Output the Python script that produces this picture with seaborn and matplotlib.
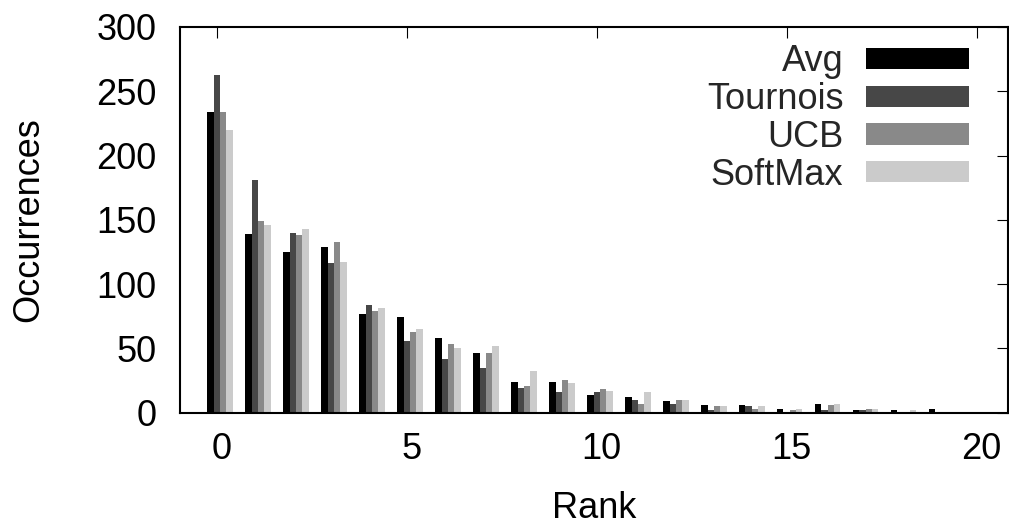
import matplotlib
matplotlib.use("Agg")
import matplotlib.pyplot as plt
import matplotlib.transforms as mtransforms
import seaborn as sns
import pandas as pd
import numpy as np

# ---- data ----
ranks = list(range(20))
series_names = ["Avg", "Tournois", "UCB", "SoftMax"]
avg      = [234, 139, 125, 129, 77, 74, 58, 46, 24, 24, 14, 12, 9, 6, 6, 3, 7, 2, 2, 3]
tournois = [263, 181, 140, 116, 84, 56, 42, 35, 19, 16, 16, 10, 7, 2, 5, 0, 2, 2, 0, 0.4]
ucb      = [234, 149, 138, 133, 79, 63, 53, 46, 21, 25, 18, 7, 10, 5, 3, 2, 6, 3, 0, 0.4]
softmax  = [220, 146, 143, 117, 81, 65, 50, 52, 32, 23, 17, 16, 10, 5, 5, 3, 7, 3, 2, 0]
colors = ["#000000", "#474747", "#898989", "#cbcbcb"]
xticks = [0, 5, 10, 15, 20]
yticks = [0, 50, 100, 150, 200, 250, 300]

df = pd.DataFrame({
    "Rank": ranks * 4,
    "Occurrences": avg + tournois + ucb + softmax,
    "Method": sum([[n] * len(ranks) for n in series_names], []),
})

sns.set_theme(style="white")
plt.rcParams["font.family"] = ["Liberation Sans", "DejaVu Sans"]

W, H, DPI = 1009, 524, 100
fig = plt.figure(figsize=(W / DPI, H / DPI), dpi=DPI)
left, right, top, bottom = 180, 1008.5, 27, 412.5
XMIN, XMAX = -0.97, 20.84
ax = fig.add_axes([left / W, 1 - bottom / H, (right - left) / W, (bottom - top) / H])

sns.barplot(data=df, x="Rank", y="Occurrences", hue="Method", hue_order=series_names,
            palette=colors, native_scale=True, width=0.667, errorbar=None,
            linewidth=0, saturation=1, ax=ax)

# gnuplot-style cluster offset (bars shifted right by 1/12 unit)
shift_px = (1 / 12) * (right - left) / (XMAX - XMIN)
off = mtransforms.ScaledTranslation(shift_px / DPI, 0, fig.dpi_scale_trans)
for p in ax.patches:
    p.set_transform(ax.transData + off)

ax.set_xlim(XMIN, XMAX)
ax.set_ylim(0, 300)
ax.set_xticks(xticks)
ax.set_xticklabels([str(t) for t in xticks])
ax.set_yticks(yticks)
ax.set_yticklabels([str(t) for t in yticks])

fs = 26
ax.tick_params(direction="in", length=7.7, width=0.8, color="black",
               top=True, right=True, labelsize=fs, labelcolor="black")
ax.tick_params(axis="y", pad=17)
ax.tick_params(axis="x", pad=14)
lab_off = mtransforms.ScaledTranslation(5 / DPI, 0, fig.dpi_scale_trans)
for lab in ax.get_xticklabels():
    lab.set_transform(lab.get_transform() + lab_off)
for s in ax.spines.values():
    s.set_visible(True)
    s.set_color("black")
    s.set_linewidth(1.5)

ax.set_xlabel("Rank", fontsize=fs, color="black", labelpad=17)
ax.set_ylabel("Occurrences", fontsize=fs, color="black", labelpad=36)

old = ax.get_legend()
handles = old.legend_handles
labels = [t.get_text() for t in old.get_texts()]
old.remove()
leg = ax.legend(handles, labels, loc="upper right",
                bbox_to_anchor=(969 / W, 1 - 44 / H), bbox_transform=fig.transFigure,
                frameon=False, fontsize=fs, markerfirst=False,
                handlelength=2.86, handleheight=0.52, handletextpad=0.62,
                labelspacing=0.08, borderaxespad=0, borderpad=0)

fig.savefig("out.png", dpi=DPI)
